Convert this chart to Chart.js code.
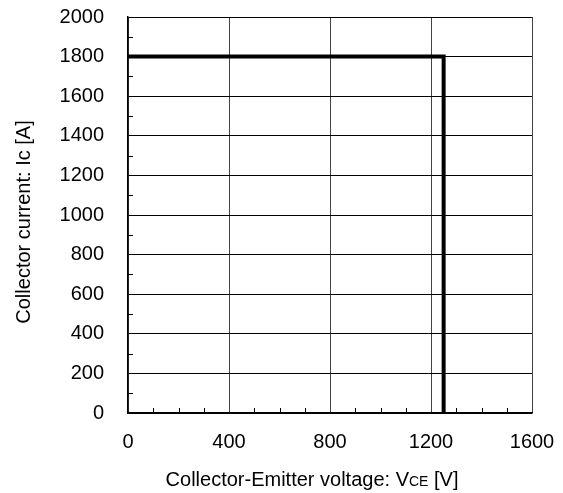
<!DOCTYPE html>
<html>
<head>
<meta charset="utf-8">
<script src="https://cdn.jsdelivr.net/npm/chart.js@4"></script>
<style>
  html, body { margin: 0; padding: 0; background: #fff; }
  #wrap { width: 563px; height: 493px; }
</style>
</head>
<body>
<div id="wrap"><canvas id="soa" width="563" height="493"></canvas></div>
<script>
// RBSOA boundary: collector-emitter voltage [V] vs collector current [A]
const vceValues = [0, 1250, 1250];
const icValues = [1800, 1800, 0];
const xTicks = [0, 400, 800, 1200, 1600];
const yTicks = [0, 200, 400, 600, 800, 1000, 1200, 1400, 1600, 1800, 2000];
const xMinor = [100, 200, 300, 500, 600, 700, 900, 1000, 1100, 1300, 1400, 1500];
const yMinor = [100, 300, 500, 700, 900, 1100, 1300, 1500, 1700, 1900];

const FONT = "'Liberation Sans', Arial, sans-serif";

// small inward ticks between the grid lines, plus the axis titles
const minorTicks = {
  id: "minorTicks",
  afterDraw(chart) {
    const ctx = chart.ctx;
    const x = chart.scales.x;
    const y = chart.scales.y;
    const area = chart.chartArea;
    ctx.save();
    ctx.strokeStyle = "#000";
    ctx.lineWidth = 1;
    ctx.beginPath();
    xMinor.forEach((v) => {
      const px = Math.round(x.getPixelForValue(v)) + 0.5;
      ctx.moveTo(px, area.bottom);
      ctx.lineTo(px, area.bottom - 5);
    });
    yMinor.forEach((v) => {
      const py = Math.round(y.getPixelForValue(v)) + 0.5;
      ctx.moveTo(area.left, py);
      ctx.lineTo(area.left + 5, py);
    });
    ctx.stroke();

    ctx.fillStyle = "#000";

    // x axis title with the small "CE" subscript
    const parts = [
      ["Collector-Emitter voltage: V", 20],
      ["CE", 14],
      [" [V]", 20],
    ];
    let total = 0;
    parts.forEach((p) => {
      ctx.font = p[1] + "px " + FONT;
      total += ctx.measureText(p[0]).width;
    });
    let cx = 312 - total / 2;
    ctx.textBaseline = "alphabetic";
    ctx.textAlign = "left";
    parts.forEach((p) => {
      ctx.font = p[1] + "px " + FONT;
      ctx.fillText(p[0], cx, 486);
      cx += ctx.measureText(p[0]).width;
    });

    // y axis title
    ctx.save();
    ctx.translate(24, 222);
    ctx.rotate(-Math.PI / 2);
    ctx.font = "20px " + FONT;
    ctx.textAlign = "center";
    ctx.textBaseline = "middle";
    ctx.fillText("Collector current: Ic [A]", 0, 0);
    ctx.restore();

    ctx.restore();
  },
};

new Chart(document.getElementById("soa"), {
  type: "line",
  data: {
    datasets: [
      {
        data: vceValues.map((v, i) => ({ x: v, y: icValues[i] })),
        borderColor: "#000",
        borderWidth: 4,
        pointRadius: 0,
        fill: false,
        tension: 0,
      },
    ],
  },
  options: {
    responsive: false,
    animation: false,
    layout: { padding: { left: 0, right: 31, top: 17, bottom: 0 } },
    plugins: { legend: { display: false }, tooltip: { enabled: false } },
    scales: {
      x: {
        type: "linear",
        min: 0,
        max: 1600,
        afterBuildTicks: (s) => { s.ticks = xTicks.map((v) => ({ value: v })); },
        afterFit: (s) => { s.height = 80; },
        grid: { color: "#444", lineWidth: 1, tickLength: 17, tickColor: "rgba(0,0,0,0)" },
        border: { color: "#000", width: 1.5 },
        ticks: {
          color: "#000",
          padding: 0,
          font: { family: FONT, size: 20 },
          callback: (v) => String(v),
        },
      },
      y: {
        type: "linear",
        min: 0,
        max: 2000,
        afterBuildTicks: (s) => { s.ticks = yTicks.map((v) => ({ value: v })); },
        afterFit: (s) => { s.width = 128; },
        grid: { color: "#000", lineWidth: 1, tickLength: 24, tickColor: "rgba(0,0,0,0)" },
        border: { color: "#000", width: 1.5 },
        ticks: {
          color: "#000",
          padding: 0,
          font: { family: FONT, size: 20 },
          callback: (v) => String(v),
        },
      },
    },
  },
  plugins: [minorTicks],
});
</script>
</body>
</html>
